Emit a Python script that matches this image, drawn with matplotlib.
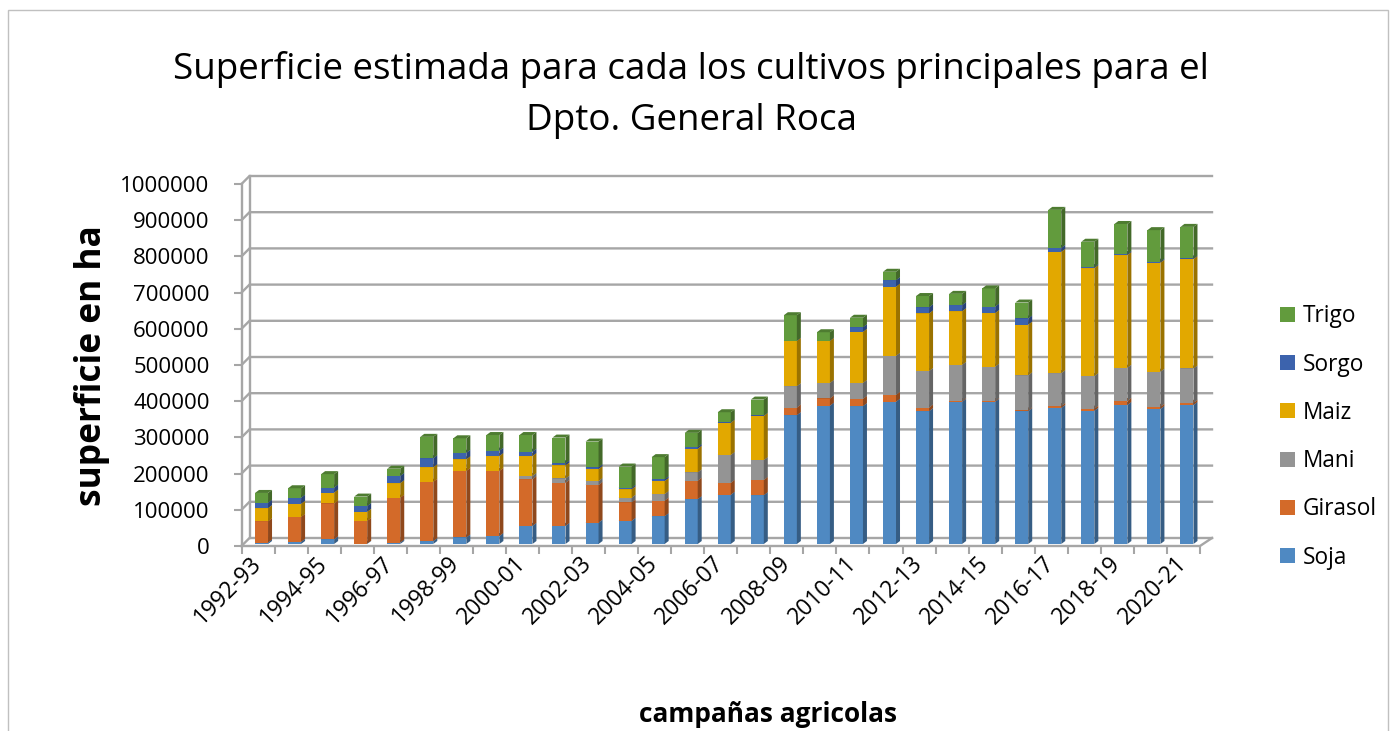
import numpy as np
import matplotlib.pyplot as plt
from matplotlib.patches import Polygon, Rectangle, Patch
import matplotlib.colors as mcolors

plt.rcParams['font.family'] = ['Open Sans', 'DejaVu Sans']

campaigns = ['1992-93', '1993-94', '1994-95', '1995-96', '1996-97', '1997-98',
             '1998-99', '1999-00', '2000-01', '2001-02', '2002-03', '2003-04',
             '2004-05', '2005-06', '2006-07', '2007-08', '2008-09', '2009-10',
             '2010-11', '2011-12', '2012-13', '2013-14', '2014-15', '2015-16',
             '2016-17', '2017-18', '2018-19', '2019-20', '2020-21']

# superficie en miles de ha
soja = [4, 6, 13, 1, 4, 8, 18, 22, 50, 50, 59, 64, 77, 124, 136, 135, 356, 382,
        381, 393, 367, 393, 393, 367, 376, 368, 384, 373, 384]
girasol = [59, 69, 99, 63, 124, 164, 184, 180, 129, 119, 104, 51, 43, 51, 33, 42,
           21, 20, 20, 19, 10, 2, 2, 2, 5, 6, 11, 6, 6]
mani = [0, 0, 0, 0, 0, 0, 0, 0, 9, 12, 11, 13, 18, 23, 77, 55, 59, 43, 44, 108,
        101, 100, 95, 97, 91, 90, 92, 97, 95]
maiz = [36, 36, 30, 25, 40, 40, 32, 41, 55, 36, 33, 23, 36, 65, 89, 122, 125, 116,
        141, 191, 159, 148, 148, 140, 335, 298, 311, 301, 302]
sorgo = [15, 17, 14, 16, 20, 25, 18, 15, 12, 6, 5, 4, 5, 5, 1, 1, 1, 1, 13, 18,
         17, 17, 18, 17, 11, 3, 3, 3, 2]
trigo = [27, 26, 37, 26, 20, 59, 40, 43, 46, 71, 71, 59, 61, 39, 28, 44, 70, 23,
         26, 23, 31, 31, 50, 44, 105, 70, 83, 87, 87]

series = ['Soja', 'Girasol', 'Mani', 'Maiz', 'Sorgo', 'Trigo']
values = [soja, girasol, mani, maiz, sorgo, trigo]
colors = ['#4f89c2', '#d36a29', '#949494', '#e2a800', '#3c63ad', '#629b3d']

W, H = 1395, 731
fig = plt.figure(figsize=(W / 100, H / 100), dpi=100)

# pixel geometry of the plot floor / wall
x0_px, x1_px, y0_px, ytop_px = 241.5, 1200, 546, 184
ax = fig.add_axes([x0_px / W, (H - y0_px) / H, (x1_px - x0_px) / W, (y0_px - ytop_px) / H])
n = len(campaigns)
ax.set_xlim(0, n)
ax.set_ylim(0, 1e6)
ux = (x1_px - x0_px) / n          # px per category
uy = (y0_px - ytop_px) / 1e6      # px per ha

wall_dx, wall_dy = 8 / ux, 8 / uy
right_dx = 12 / ux
grid_c = '#a6a6a6'
glw = 1.7

# back wall gridlines + left wall
for v in range(0, 1000001, 100000):
    ax.plot([0, wall_dx, n + right_dx], [v, v + wall_dy, v + wall_dy],
            color=grid_c, lw=glw, clip_on=False, zorder=1, solid_joinstyle='miter')
ax.plot([0, 0], [0, 1e6], color=grid_c, lw=glw, clip_on=False, zorder=1)
ax.plot([wall_dx, wall_dx], [wall_dy, 1e6 + wall_dy], color=grid_c, lw=glw, clip_on=False, zorder=1)
ax.plot([0, n, n + right_dx], [0, 0, wall_dy], color=grid_c, lw=glw, clip_on=False, zorder=1)


def shade(c, f):
    r, g, b = mcolors.to_rgb(c)
    return (r * f, g * f, b * f)


bw = 13 / ux
bshift = 3.5 / ux
ddx, ddy = 4 / ux, 3 / uy
base = 2 / uy

for i in range(n):
    left = i + 0.5 - bw / 2 + bshift
    bottom = base
    for vals, c in zip(values, colors):
        h = vals[i] * 1000
        if h <= 0:
            continue
        top = bottom + h
        ax.add_patch(Rectangle((left, bottom), bw, h, facecolor=c, edgecolor='none', zorder=3))
        ax.add_patch(Polygon([(left + bw, bottom), (left + bw + ddx, bottom + ddy),
                              (left + bw + ddx, top + ddy), (left + bw, top)],
                             closed=True, facecolor=shade(c, 0.68), edgecolor='none', zorder=3))
        ax.add_patch(Polygon([(left, top), (left + bw, top), (left + bw + ddx, top + ddy),
                              (left + ddx, top + ddy)],
                             closed=True, facecolor=shade(c, 0.8), edgecolor='none', zorder=3))
        bottom = top

for s in ax.spines.values():
    s.set_visible(False)

yt = list(range(0, 1000001, 100000))
ax.set_yticks(yt)
ax.set_yticklabels([str(v) for v in yt])
ax.tick_params(axis='y', length=6, width=1.5, color=grid_c, pad=17, labelsize=16)

ax.set_xticks(np.arange(0.5, n, 2))
ax.set_xticklabels(campaigns[::2], rotation=45, ha='right', va='center',
                   rotation_mode='anchor')
ax.set_xticks(np.arange(0, n + 1), minor=True)
ax.tick_params(axis='x', which='major', length=0, pad=10, labelsize=16.5)
ax.tick_params(axis='x', which='minor', length=6, width=1.5, color=grid_c)

fig.text(691 / W, 1 - 95 / H,
         'Superficie estimada para cada los cultivos principales para el\nDpto. General Roca',
         ha='center', va='center', fontsize=26.5, linespacing=1.55)
fig.text(92 / W, 1 - 366 / H, 'superficie en ha', rotation=90, ha='center', va='center',
         fontsize=25.4, fontweight='bold')
fig.text(768 / W, 1 - 714 / H, 'campañas agricolas', ha='center', va='center',
         fontsize=18.9, fontweight='bold')

handles = [Patch(facecolor=c, edgecolor='none', label=s) for s, c in zip(series, colors)][::-1]
fig.legend(handles=handles, loc='center left', bbox_to_anchor=(1280 / W, 1 - 437 / H),
           frameon=False, fontsize=16.3, handlelength=0.65, handleheight=0.65,
           handletextpad=0.35, labelspacing=1.07, borderpad=0, borderaxespad=0)

fig.patches.append(Rectangle((8 / W, -0.05), (1388 - 8) / W, 1 - 10 / H + 0.05,
                             transform=fig.transFigure, fill=False,
                             edgecolor='#c0c0c0', lw=1))

fig.savefig('out.png', dpi=100)
